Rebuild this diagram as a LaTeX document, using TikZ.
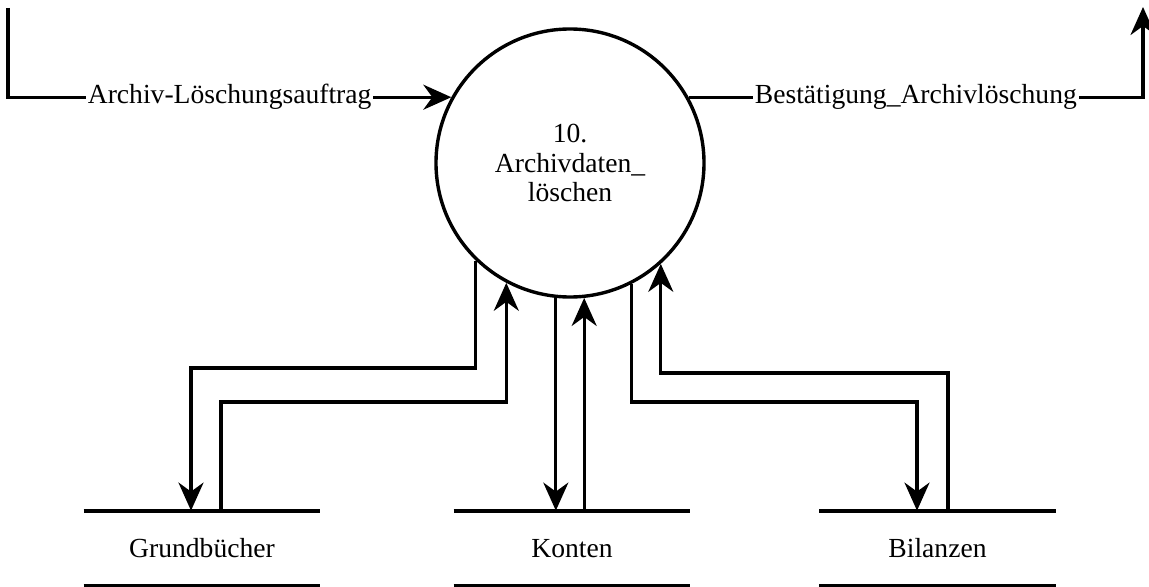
\documentclass[tikz,border=0pt]{standalone}
\usepackage{fontspec}
\setmainfont{Liberation Serif}
\usetikzlibrary{arrows.meta,positioning,calc}

\tikzset{
	flow/.style={line width=1.6pt,-{Stealth[length=14pt,width=12.5pt,inset=4.5pt]}},
	proc/.style={circle,draw,line width=1.7pt,minimum size=134pt,inner sep=0pt,align=center},
	store/.style={minimum width=118pt,minimum height=37.5pt,inner sep=0pt},
	storeline/.style={line width=2pt},
	lbl/.style={fill=white,inner xsep=1pt,inner ysep=0pt}
}

\begin{document}
\begin{tikzpicture}[x=0.5pt,y=-0.5pt,every node/.style={font=\fontsize{13.8}{14.6}\selectfont}]
	%\draw[help lines] (0,0) grid[step=50] (1149,587);
	\useasboundingbox (0,0) rectangle (1149,587);

	\node[proc] (p10) at (570,163) {10.\\Archivdaten\_\\löschen};

	\node[store] (gb) at (202,548.5) {Grundbücher};
	\node[store] (kt) at (572,548.5) {Konten};
	\node[store] (bl) at (937.5,548.5) {Bilanzen};

	\foreach \s in {gb,kt,bl} {
		\draw[storeline] (\s.north west) -- (\s.north east);
		\draw[storeline] (\s.south west) -- (\s.south east);
	}

	\coordinate (src) at (8,8);
	\coordinate (snk) at (1143,7);

	% external flows
	\draw[flow] (src) |- (p10.151) node[pos=0.75,lbl] {Archiv-Löschungsauftrag};
	\draw[flow] (p10.29) -| (snk) node[pos=0.25,lbl] {Bestätigung\_Archivlöschung};

	% Grundbuecher
	\draw[flow] (p10.-134) |- (191,368) -- ([xshift=-5.5pt]gb.north);
	\draw[flow] ([xshift=9.5pt]gb.north) |- (p10.-118 |- 0,402) -- (p10.-118);

	% Konten
	\draw[flow] (p10.-96.4) -- (p10.-96.4 |- kt.north);
	\draw[flow] (p10.-84 |- kt.north) -- (p10.-84);

	% Bilanzen
	\draw[flow] (p10.-63.9) |- (917,402) -- ([xshift=-10.25pt]bl.north);
	\draw[flow] ([xshift=5.25pt]bl.north) |- (p10.-48.4 |- 0,373) -- (p10.-48.4);
\end{tikzpicture}
\end{document}
